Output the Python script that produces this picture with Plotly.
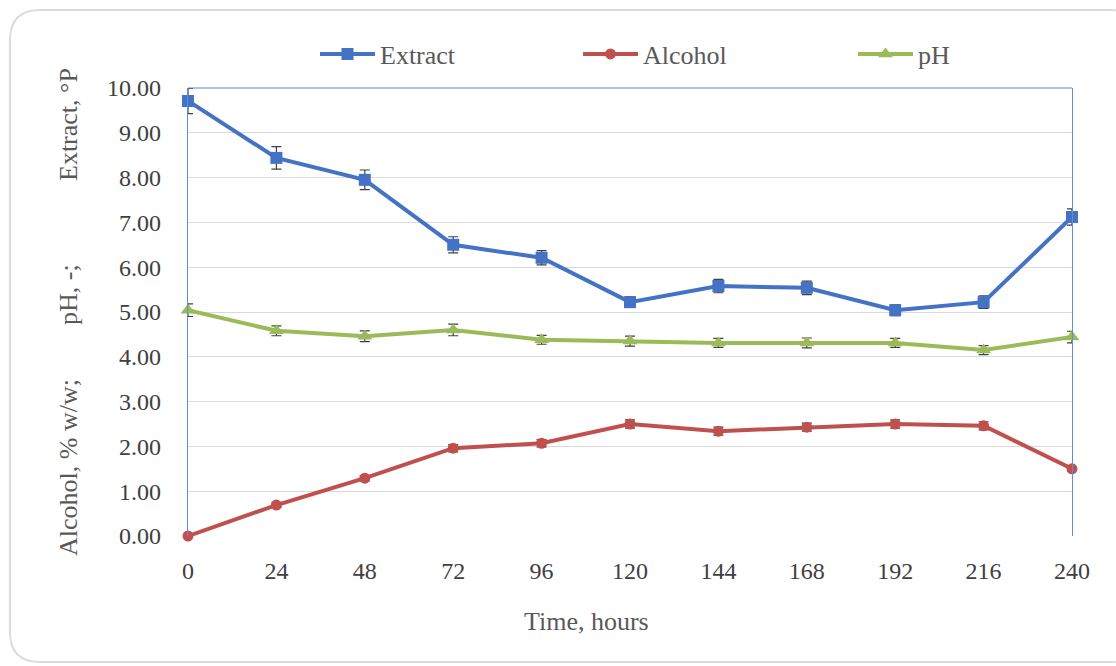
import plotly.graph_objects as go

# Fermentation time points (hours)
hours = [0, 24, 48, 72, 96, 120, 144, 168, 192, 216, 240]

# Measured values
extract = [9.71, 8.44, 7.95, 6.50, 6.21, 5.22, 5.58, 5.54, 5.04, 5.22, 7.12]
extract_err = [0.28, 0.25, 0.22, 0.18, 0.16, 0.12, 0.15, 0.15, 0.12, 0.14, 0.18]

alcohol = [0.00, 0.69, 1.29, 1.96, 2.07, 2.50, 2.34, 2.43, 2.50, 2.46, 1.50]
alcohol_err = [0.00, 0.05, 0.06, 0.08, 0.08, 0.09, 0.09, 0.09, 0.09, 0.09, 0.05]

ph = [5.04, 4.58, 4.46, 4.60, 4.38, 4.35, 4.31, 4.31, 4.31, 4.15, 4.44]
ph_err = [0.14, 0.11, 0.12, 0.13, 0.10, 0.11, 0.10, 0.11, 0.10, 0.10, 0.13]

y_ticks = [0, 1, 2, 3, 4, 5, 6, 7, 8, 9, 10]
y_tick_labels = [f"{v:.2f}" for v in y_ticks]

FONT = "Liberation Serif, DejaVu Serif, serif"
TEXT = "#595959"
TICK_TEXT = "#404040"
TICK_SIZE = 24
TITLE_SIZE = 26

W, H = 1116, 666
ML, MR, MT, MB = 188, 44, 88, 130


# paper-coordinate helpers for pixel positions
def px_x(p):
    return (p - ML) / (W - ML - MR)


def px_y(p):
    return (H - MB - p) / (H - MT - MB)


fig = go.Figure()

series = [
    ("Extract", extract, extract_err, "#4472C4", "square", 12, "legend", 315),
    ("Alcohol", alcohol, alcohol_err, "#C0504D", "circle", 11, "legend2", 578),
    ("pH", ph, ph_err, "#9BBB59", "triangle-up", 13, "legend3", 853),
]
legend_layout = {}
for name, vals, err, color, symbol, size, leg, lx in series:
    fig.add_trace(go.Scatter(
        x=hours, y=vals, name=name, mode="lines+markers",
        line=dict(color=color, width=4),
        marker=dict(symbol=symbol, size=size, color=color),
        error_y=dict(type="data", array=err, visible=True,
                     color="#404040", thickness=1.2, width=5),
        cliponaxis=False, legend=leg,
    ))
    legend_layout[leg] = dict(
        x=px_x(lx), y=px_y(54), xanchor="left", yanchor="middle",
        orientation="h", itemwidth=55,
        font=dict(family=FONT, size=TITLE_SIZE, color=TEXT),
        bgcolor="rgba(0,0,0,0)",
    )

fig.update_xaxes(
    range=[0, 240], tickvals=hours, ticktext=[str(h) for h in hours],
    showgrid=False, zeroline=False, showline=False, ticks="",
    ticklabelstandoff=18,
    tickfont=dict(family=FONT, size=TICK_SIZE, color=TICK_TEXT),
)
fig.update_yaxes(
    range=[0, 10], tickvals=y_ticks, ticktext=y_tick_labels,
    showgrid=True, gridcolor="#D9D9D9", gridwidth=1, zeroline=False,
    showline=True, mirror=True, linecolor="#5B8FD6", linewidth=1.2,
    ticks="", ticklabelstandoff=21,
    tickfont=dict(family=FONT, size=TICK_SIZE, color=TICK_TEXT),
)

# top edge of the plot area
fig.add_shape(type="line", xref="paper", yref="paper", x0=0, x1=1, y0=1, y1=1,
              line=dict(color="#5B8FD6", width=1.2))

# rounded outer frame
x0, x1, y0, y1, r = px_x(10), px_x(1140), px_y(10), px_y(662), 30
rx = r / (W - ML - MR)
ry = r / (H - MT - MB)
path = (f"M{x0 + rx},{y0} L{x1 - rx},{y0} Q{x1},{y0} {x1},{y0 - ry} "
        f"L{x1},{y1 + ry} Q{x1},{y1} {x1 - rx},{y1} L{x0 + rx},{y1} "
        f"Q{x0},{y1} {x0},{y1 + ry} L{x0},{y0 - ry} Q{x0},{y0} {x0 + rx},{y0} Z")
fig.add_shape(type="path", xref="paper", yref="paper", path=path,
              line=dict(color="#DCDCDC", width=2), layer="below")

# x-axis title
fig.add_annotation(text="Time, hours", xref="paper", yref="paper",
                   x=px_x(586), y=px_y(621), showarrow=False,
                   font=dict(family=FONT, size=TITLE_SIZE, color=TEXT),
                   xanchor="center", yanchor="middle")

# stacked y-axis title parts
for text, ypix in [("Alcohol, % w/w;", 468), ("pH, -;", 295), ("Extract, °P", 125)]:
    fig.add_annotation(text=text, xref="paper", yref="paper",
                       x=px_x(68), y=px_y(ypix), textangle=-90, showarrow=False,
                       font=dict(family=FONT, size=TITLE_SIZE, color=TEXT),
                       xanchor="center", yanchor="middle")

fig.update_layout(
    width=W, height=H,
    margin=dict(l=ML, r=MR, t=MT, b=MB, autoexpand=False),
    paper_bgcolor="white", plot_bgcolor="white",
    font=dict(family=FONT, color=TEXT),
    showlegend=True,
    **legend_layout,
)

fig.write_html("out.html")
